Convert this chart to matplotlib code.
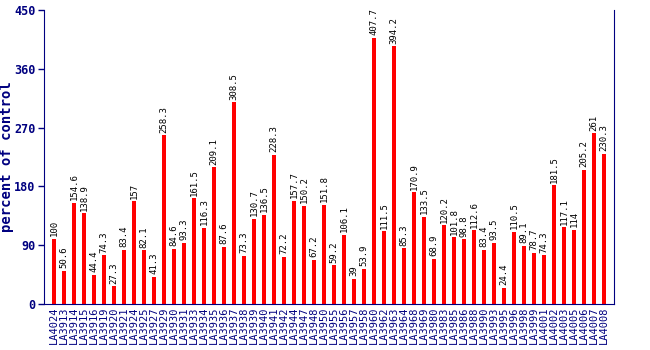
import matplotlib
matplotlib.use("Agg")
import matplotlib.pyplot as plt

labels = ["LA4024", "LA3913", "LA3914", "LA3915", "LA3916", "LA3919", "LA3920",
          "LA3921", "LA3924", "LA3925", "LA3927", "LA3929", "LA3930", "LA3931",
          "LA3933", "LA3934", "LA3935", "LA3936", "LA3937", "LA3938", "LA3939",
          "LA3940", "LA3941", "LA3942", "LA3944", "LA3947", "LA3948", "LA3950",
          "LA3955", "LA3956", "LA3957", "LA3958", "LA3960", "LA3962", "LA3963",
          "LA3964", "LA3968", "LA3969", "LA3980", "LA3983", "LA3985", "LA3986",
          "LA3988", "LA3990", "LA3993", "LA3995", "LA3996", "LA3998", "LA3999",
          "LA4001", "LA4002", "LA4003", "LA4005", "LA4006", "LA4007", "LA4008"]
values = [100, 50.6, 154.6, 138.9, 44.4, 74.3, 27.3, 83.4, 157, 82.1, 41.3,
          258.3, 84.6, 93.3, 161.5, 116.3, 209.1, 87.6, 308.5, 73.3, 130.7,
          136.5, 228.3, 72.2, 157.7, 150.2, 67.2, 151.8, 59.2, 106.1, 39, 53.9,
          407.7, 111.5, 394.2, 85.3, 170.9, 133.5, 68.9, 120.2, 101.8, 98.8,
          112.6, 83.4, 93.5, 24.4, 110.5, 89.1, 78.7, 74.3, 181.5, 117.1, 114,
          205.2, 261, 230.3]
yticks = [0, 90, 180, 270, 360, 450]

navy = "#000080"
mono = "DejaVu Sans Mono"

fig = plt.figure(figsize=(6.5, 3.5), dpi=100)
ax = fig.add_axes([44 / 650, 46 / 350, 570 / 650, 294 / 350])

x = list(range(len(values)))
ax.bar(x, values, width=0.42, color="#ff0000")
for xi, v in zip(x, values):
    ax.text(xi, v + 4, f"{v:g}", rotation=90, ha="center", va="bottom",
            fontsize=6.5, family=mono, color="black")

ax.set_xlim(-1, len(values))
ax.set_ylim(0, 450)
ax.set_yticks(yticks)
ax.set_yticklabels([str(t) for t in yticks], family=mono, fontsize=8.5,
                   fontweight="bold", color=navy)
ax.set_xticks(x)
ax.set_xticklabels(labels, rotation=90, family=mono, fontsize=7.5, color=navy)
ax.tick_params(axis="x", length=0, pad=2)
ax.tick_params(axis="y", length=4, color=navy, width=1, pad=2)
ax.set_ylabel("percent of control", family=mono, fontsize=10,
              fontweight="bold", color=navy)
ax.yaxis.set_label_coords(-0.052, 0.5)

for side in ["left", "bottom", "right"]:
    ax.spines[side].set_color(navy)
ax.spines["top"].set_visible(False)

fig.savefig("out.png", dpi=100)
